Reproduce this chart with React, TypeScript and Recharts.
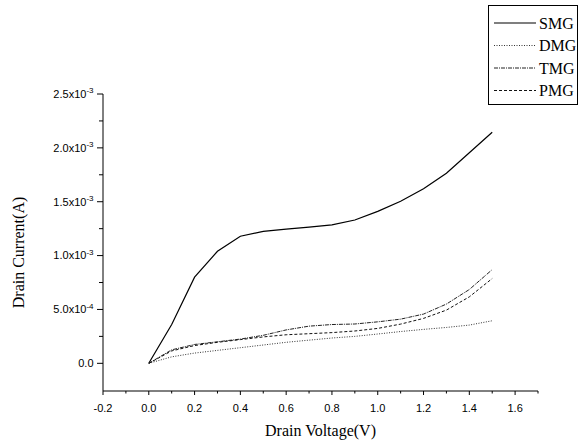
import React from 'react';
import { LineChart, Line, XAxis, YAxis, Legend } from 'recharts';

const voltage = [0, 0.1, 0.2, 0.3, 0.4, 0.5, 0.6, 0.7, 0.8, 0.9, 1.0, 1.1, 1.2, 1.3, 1.4, 1.5];
const smg = [0, 3.6e-4, 8.0e-4, 1.04e-3, 1.18e-3, 1.225e-3, 1.245e-3, 1.265e-3, 1.285e-3, 1.33e-3, 1.41e-3, 1.505e-3, 1.62e-3, 1.765e-3, 1.955e-3, 2.145e-3];
const dmg = [0, 6e-5, 9.5e-5, 1.2e-4, 1.45e-4, 1.7e-4, 1.95e-4, 2.15e-4, 2.35e-4, 2.5e-4, 2.72e-4, 2.95e-4, 3.15e-4, 3.33e-4, 3.55e-4, 3.95e-4];
const tmg = [0, 1.25e-4, 1.75e-4, 2.0e-4, 2.25e-4, 2.6e-4, 3.1e-4, 3.45e-4, 3.6e-4, 3.65e-4, 3.85e-4, 4.1e-4, 4.57e-4, 5.5e-4, 6.85e-4, 8.7e-4];
const pmg = [0, 1.15e-4, 1.65e-4, 1.95e-4, 2.2e-4, 2.45e-4, 2.65e-4, 2.75e-4, 2.85e-4, 3.0e-4, 3.24e-4, 3.64e-4, 4.17e-4, 4.94e-4, 6.17e-4, 7.87e-4];

const seriesNames = ['SMG', 'DMG', 'TMG', 'PMG'];
const xTicks = [-0.2, -0.1, 0, 0.1, 0.2, 0.3, 0.4, 0.5, 0.6, 0.7, 0.8, 0.9, 1.0, 1.1, 1.2, 1.3, 1.4, 1.5, 1.6, 1.7];
const xMajorLabels = ['-0.2', '0.0', '0.2', '0.4', '0.6', '0.8', '1.0', '1.2', '1.4', '1.6'];
const yTicks = [0, 2.5e-4, 5e-4, 7.5e-4, 1e-3, 1.25e-3, 1.5e-3, 1.75e-3, 2e-3, 2.25e-3, 2.5e-3];
const yMajorMantissa = ['0.0', '5.0x10', '1.0x10', '1.5x10', '2.0x10', '2.5x10'];
const yMajorExponent = ['', '-4', '-3', '-3', '-3', '-3'];

const data = voltage.map((v, i) => ({ v, SMG: smg[i], DMG: dmg[i], TMG: tmg[i], PMG: pmg[i] }));

const styles: Record<string, { dash?: string; color: string; width: number }> = {
  SMG: { color: '#000', width: 1.2 },
  DMG: { dash: '1 1.5', color: '#333', width: 1 },
  TMG: { dash: '4 1 1 1', color: '#222', width: 1 },
  PMG: { dash: '3 2', color: '#111', width: 1 },
};

const sans = '"Liberation Sans", Arial, sans-serif';
const serif = '"Liberation Serif", "Times New Roman", serif';

const XTick = (props: any) => {
  const { x, y, index } = props;
  const major = index % 2 === 0;
  return (
    <g>
      <line x1={x} x2={x} y1={y} y2={y + (major ? 4 : 2.5)} stroke="#000" strokeWidth={1} />
      {major && (
        <text x={x} y={y + 17} dy="0.35em" textAnchor="middle" fontFamily={sans} fontSize={11} fill="#000">
          {xMajorLabels[index / 2]}
        </text>
      )}
    </g>
  );
};

const YTick = (props: any) => {
  const { x, y, index } = props;
  const major = index % 2 === 0;
  const k = index / 2;
  return (
    <g>
      <line x1={x - (major ? 6 : 4)} x2={x} y1={y} y2={y} stroke="#000" strokeWidth={1} />
      {major && (
        <text x={x - 9.5} y={y} dy="0.35em" textAnchor="end" fontFamily={sans} fontSize={11} fill="#000">
          <tspan>{yMajorMantissa[k]}</tspan>
          {yMajorExponent[k] && (
            <tspan fontSize={8} dy={-4.5}>{yMajorExponent[k]}</tspan>
          )}
        </text>
      )}
    </g>
  );
};

const LegendBox = () => (
  <div
    style={{
      width: 88,
      height: 98,
      border: '1.5px solid #000',
      background: '#fff',
      boxSizing: 'content-box',
    }}
  >
    <svg width={88} height={98} style={{ display: 'block' }}>
      {seriesNames.map((n, i) => {
        const st = styles[n];
        const yy = 17 + i * 22.5;
        return (
          <g key={n}>
            <line x1={5} x2={47} y1={yy} y2={yy} stroke={st.color} strokeWidth={st.width} strokeDasharray={st.dash} />
            <text x={50} y={yy} dy="0.35em" fontFamily={serif} fontSize={16} fill="#000">{n}</text>
          </g>
        );
      })}
    </svg>
  </div>
);

export default function App() {
  return (
    <div style={{ position: 'absolute', left: 0, top: 0, width: 582, height: 444, background: '#fff' }}>
      <LineChart width={582} height={444} data={data} margin={{ top: 94, right: 44, bottom: 0, left: 0 }}>
        <XAxis
          dataKey="v"
          type="number"
          domain={[-0.2, 1.7]}
          ticks={xTicks}
          interval={0}
          height={53}
          tickLine={false}
          tickSize={0}
          tickMargin={0}
          tick={<XTick />}
          axisLine={{ stroke: '#000', strokeWidth: 1 }}
          allowDataOverflow
          label={{
            content: (p: any) => {
              const vb = p.viewBox;
              return (
                <text x={vb.x + vb.width / 2} y={vb.y + 45} textAnchor="middle" fontFamily={serif} fontSize={16} fill="#000">
                  Drain Voltage(V)
                </text>
              );
            },
          }}
        />
        <YAxis
          type="number"
          domain={[-0.000257, 0.0025]}
          ticks={yTicks}
          interval={0}
          width={103}
          tickLine={false}
          tickSize={0}
          tickMargin={0}
          tick={<YTick />}
          axisLine={{ stroke: '#000', strokeWidth: 1 }}
          allowDataOverflow
          label={{
            content: (p: any) => {
              const vb = p.viewBox;
              const cx = vb.x + 18;
              const cy = vb.y + vb.height / 2 + 10;
              return (
                <text x={cx} y={cy} dy="0.35em" textAnchor="middle" transform={`rotate(-90 ${cx} ${cy})`} fontFamily={serif} fontSize={16} fill="#000">
                  Drain Current(A)
                </text>
              );
            },
          }}
        />
        <Legend
          layout="horizontal"
          verticalAlign="middle"
          align="center"
          content={<LegendBox />}
          wrapperStyle={{ position: 'absolute', top: 5, left: 488, width: 91, height: 101 }}
        />
        {seriesNames.map((n) => (
          <Line
            key={n}
            dataKey={n}
            type="linear"
            stroke={styles[n].color}
            strokeWidth={styles[n].width}
            strokeDasharray={styles[n].dash}
            dot={false}
            isAnimationActive={false}
          />
        ))}
      </LineChart>
    </div>
  );
}
